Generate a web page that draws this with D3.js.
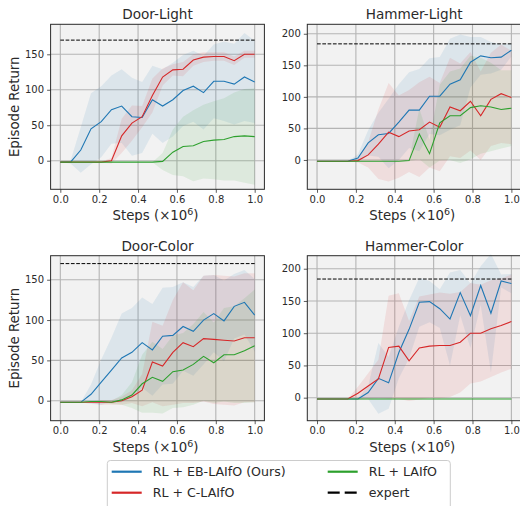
<!DOCTYPE html>
<html>
<head>
<meta charset="utf-8">
<script src="https://cdn.jsdelivr.net/npm/d3@7"></script>
<style>
  body { margin: 0; background: #fff; }
  text { font-family: "DejaVu Sans", sans-serif; fill: #2a2a2a; }
</style>
</head>
<body>
<svg id="chart" width="520" height="506"></svg>
<script>
// x positions: 20 evaluation points over 1e6 steps
var steps = d3.range(20).map(function (i) { return i / 19; });

// ---- Door-Light ----
var doorLightOurs = [-2, -2, 15, 45, 55, 72, 77, 62, 61, 86, 77, 86, 99, 105, 96, 112, 112, 108, 118, 111];
var doorLightOursStd = [0, 2, 32, 50, 50, 48, 52, 55, 50, 48, 52, 52, 50, 50, 52, 52, 56, 57, 62, 58];
var doorLightC = [-2, -2, -2, -2, -2, 0, 35, 53, 62, 92, 118, 128, 129, 142, 146, 147, 147, 141, 150, 150];
var doorLightCStd = [0, 0, 0, 0, 1, 4, 24, 25, 15, 24, 12, 8, 10, 8, 7, 6, 6, 6, 5, 5];
var doorLightBase = [-2, -2, -2, -2, -2, -2, -2, -2, -2, -2, -1, 12, 20, 21, 27, 29, 30, 34, 35, 34];
var doorLightBaseStd = [0, 0, 0, 0, 0, 0, 0, 0, 0, 0, 12, 32, 42, 50, 52, 55, 58, 62, 66, 68];

// ---- Hammer-Light ----
var hammerLightOurs = [-2, -2, -2, -2, 3, 27, 40, 42, 60, 79, 79, 101, 101, 120, 127, 155, 165, 162, 163, 174];
var hammerLightOursStd = [0, 0, 0, 0, 6, 20, 35, 55, 60, 60, 65, 60, 62, 72, 72, 40, 30, 25, 20, 10];
var hammerLightC = [-2, -2, -2, -2, -1, 8, 25, 44, 37, 46, 48, 60, 52, 84, 78, 93, 70, 96, 105, 99];
var hammerLightCStd = [0, 0, 0, 0, 3, 20, 55, 78, 65, 65, 75, 72, 70, 78, 75, 78, 70, 74, 78, 74];
var hammerLightBase = [-2, -2, -2, -2, -2, -2, -2, -2, -2, -1, 41, 10, 59, 70, 70, 83, 86, 84, 80, 82];
var hammerLightBaseStd = [0, 0, 0, 0, 0, 0, 0, 0, 0, 1, 40, 22, 60, 70, 75, 82, 76, 70, 62, 60];

// ---- Door-Color ----
var doorColorOurs = [-2, -2, -2, 8, 23, 38, 53, 60, 72, 63, 80, 81, 92, 86, 100, 108, 99, 117, 122, 106];
var doorColorOursStd = [0, 0, 0, 12, 28, 40, 55, 55, 56, 57, 60, 60, 55, 55, 55, 48, 50, 40, 40, 45];
var doorColorC = [-2, -2, -2, -2, -2, -2, 0, 5, 13, 48, 43, 60, 72, 67, 77, 76, 75, 74, 78, 78];
var doorColorCStd = [0, 0, 0, 1, 3, 3, 5, 8, 20, 50, 50, 65, 75, 70, 78, 80, 80, 80, 80, 80];
var doorColorBase = [-2, -2, -2, -1, -1, -2, 1, 7, 21, 29, 24, 36, 38, 45, 55, 47, 57, 57, 62, 68];
var doorColorBaseStd = [0, 0, 0, 0, 1, 2, 6, 16, 36, 44, 40, 45, 46, 50, 55, 50, 58, 60, 65, 70];

// ---- Hammer-Color ----
var hammerColorOurs = [-2, -2, -2, -2, -2, 8, 30, 23, 70, 106, 148, 149, 138, 122, 163, 127, 174, 131, 181, 177];
var hammerColorOursStd = [0, 0, 0, 0, 1, 10, 55, 40, 40, 45, 38, 32, 30, 72, 35, 50, 30, 92, 10, 15];
var hammerColorC = [-2, -2, -2, -2, 7, 18, 29, 78, 80, 57, 77, 80, 81, 81, 86, 100, 100, 107, 112, 118];
var hammerColorCStd = [0, 0, 0, 0, 10, 20, 30, 80, 82, 62, 80, 80, 82, 80, 78, 78, 75, 75, 73, 73];
var hammerColorBase = [-2, -2, -2, -2, -2, -2, -2, -2, -2, -2, -2, -2, -2, -2, -2, -2, -2, -2, -2, -2];
var hammerColorBaseStd = [0, 0, 0, 0, 0, 0, 0, 0, 0, 0, 0, 0, 0, 0, 0, 0, 0, 0, 0, 0];

var expertDoor = 170, expertHammer = 184;

var methods = ["RL + EB-LAIfO (Ours)", "RL + C-LAIfO", "RL + LAIfO"];
var colors = ["#1f77b4", "#d62728", "#2ca02c"];
var xTicks = [0, 0.2, 0.4, 0.6, 0.8, 1.0];

var panels = [
  { title: "Door-Light", left: 50.6, top: 24.3, yDom: [-40.3, 192.3], yTicks: [0, 50, 100, 150], expert: expertDoor, ylab: true,
    series: [[doorLightOurs, doorLightOursStd], [doorLightC, doorLightCStd], [doorLightBase, doorLightBaseStd]] },
  { title: "Hammer-Light", left: 307.3, top: 24.3, yDom: [-46.5, 215], yTicks: [0, 50, 100, 150, 200], expert: expertHammer, ylab: false,
    series: [[hammerLightOurs, hammerLightOursStd], [hammerLightC, hammerLightCStd], [hammerLightBase, hammerLightBaseStd]] },
  { title: "Door-Color", left: 50.6, top: 255.7, yDom: [-24.8, 179.8], yTicks: [0, 50, 100, 150], expert: expertDoor, ylab: true,
    series: [[doorColorOurs, doorColorOursStd], [doorColorC, doorColorCStd], [doorColorBase, doorColorBaseStd]] },
  { title: "Hammer-Color", left: 307.3, top: 255.7, yDom: [-35.7, 220.2], yTicks: [0, 50, 100, 150, 200], expert: expertHammer, ylab: false,
    series: [[hammerColorOurs, hammerColorOursStd], [hammerColorC, hammerColorCStd], [hammerColorBase, hammerColorBaseStd]] }
];

var W = 213.8, H = 165;
var svg = d3.select("#chart");

panels.forEach(function (p) {
  var g = svg.append("g").attr("transform", "translate(" + p.left + "," + p.top + ")");
  var x = d3.scaleLinear().domain([-0.05, 1.05]).range([0, W]);
  var y = d3.scaleLinear().domain(p.yDom).range([H, 0]);

  g.append("rect").attr("width", W).attr("height", H).attr("fill", "#f2f2f2");

  // grid
  g.append("g").selectAll("line").data(xTicks).enter().append("line")
    .attr("x1", x).attr("x2", x).attr("y1", 0).attr("y2", H)
    .attr("stroke", "#b4b4b4").attr("stroke-width", 1.1);
  g.append("g").selectAll("line").data(p.yTicks).enter().append("line")
    .attr("y1", y).attr("y2", y).attr("x1", 0).attr("x2", W)
    .attr("stroke", "#b4b4b4").attr("stroke-width", 1.1);

  // bands then lines
  p.series.forEach(function (s, k) {
    var area = d3.area()
      .x(function (d, i) { return x(steps[i]); })
      .y0(function (d, i) { return y(d - s[1][i]); })
      .y1(function (d, i) { return y(d + s[1][i]); });
    g.append("path").datum(s[0]).attr("d", area)
      .attr("fill", colors[k]).attr("fill-opacity", 0.1);
  });
  g.append("line")
    .attr("x1", x(0)).attr("x2", x(1)).attr("y1", y(p.expert)).attr("y2", y(p.expert))
    .attr("stroke", "#000").attr("stroke-width", 1).attr("stroke-dasharray", "3.7,1.6");
  p.series.forEach(function (s, k) {
    var line = d3.line()
      .x(function (d, i) { return x(steps[i]); })
      .y(function (d) { return y(d); });
    g.append("path").datum(s[0]).attr("d", line)
      .attr("fill", "none").attr("stroke", colors[k]).attr("stroke-width", 1.1);
  });

  // axes
  var xa = g.append("g").attr("transform", "translate(0," + H + ")")
    .call(d3.axisBottom(x).tickValues(xTicks).tickFormat(d3.format(".1f")).tickSize(3.5).tickPadding(3));
  var ya = g.append("g")
    .call(d3.axisLeft(y).tickValues(p.yTicks).tickSize(3.5).tickPadding(3));
  [xa, ya].forEach(function (a) {
    a.select(".domain").remove();
    a.selectAll("text").attr("font-size", 10).attr("font-family", "DejaVu Sans").attr("fill", "#2a2a2a");
    a.selectAll("line").attr("stroke", "#333").attr("stroke-width", 0.8);
  });

  g.append("rect").attr("width", W).attr("height", H)
    .attr("fill", "none").attr("stroke", "#2a2a2a").attr("stroke-width", 1);

  g.append("text").attr("x", W / 2).attr("y", -5).attr("text-anchor", "middle")
    .attr("font-size", 13.6).text(p.title);

  var xl = g.append("text").attr("x", W / 2 - 2).attr("y", H + 31).attr("text-anchor", "middle")
    .attr("font-size", 13.3);
  xl.append("tspan").text("Steps (×10");
  xl.append("tspan").attr("dy", -5).attr("font-size", 9.5).text("6");
  xl.append("tspan").attr("dy", 5).text(")");

  if (p.ylab) {
    g.append("text")
      .attr("transform", "translate(" + (19.5 - p.left) + "," + (H / 2) + ") rotate(-90)")
      .attr("text-anchor", "middle").attr("font-size", 13.3).text("Episode Return");
  }
});

// legend
var lg = svg.append("g").attr("transform", "translate(107.3,460.5)");
lg.append("rect").attr("width", 343).attr("height", 60).attr("rx", 3)
  .attr("fill", "#fff").attr("stroke", "#cccccc").attr("stroke-width", 1);
var entries = [
  { label: methods[0], color: colors[0], dash: null, cx: 4.4, cy: 11.2 },
  { label: methods[1], color: colors[1], dash: null, cx: 4.4, cy: 32.2 },
  { label: methods[2], color: colors[2], dash: null, cx: 220.4, cy: 11.2 },
  { label: "expert", color: "#000", dash: "12,5", cx: 220.4, cy: 32.2 }
];
entries.forEach(function (e) {
  lg.append("line").attr("x1", e.cx).attr("x2", e.cx + 30).attr("y1", e.cy).attr("y2", e.cy)
    .attr("stroke", e.color).attr("stroke-width", 2.2).attr("stroke-dasharray", e.dash);
  lg.append("text").attr("x", e.cx + 41).attr("y", e.cy + 4.3).attr("font-size", 12.6).text(e.label);
});
</script>
</body>
</html>
